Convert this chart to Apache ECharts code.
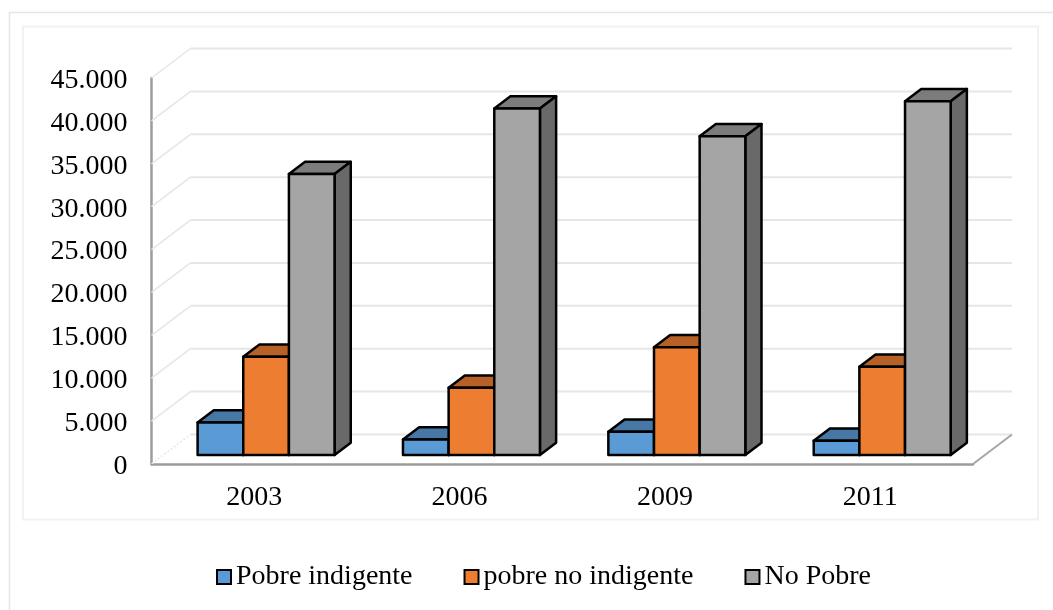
<!DOCTYPE html>
<html>
<head>
<meta charset="utf-8">
<style>html,body{margin:0;padding:0;background:#fff}#c{width:1053px;height:610px}</style>
<script src="https://cdn.jsdelivr.net/npm/echarts@6/dist/echarts.min.js"></script>
</head>
<body>
<div id="c"></div>
<script>
const categories = ['2003', '2006', '2009', '2011'];
const pobreIndigente = [3800, 1800, 2700, 1650];
const pobreNoIndigente = [11450, 7850, 12550, 10300];
const noPobre = [32750, 40400, 37150, 41250];
const yTicks = [0, 5000, 10000, 15000, 20000, 25000, 30000, 35000, 40000, 45000];
const yTickLabels = ['0', '5.000', '10.000', '15.000', '20.000', '25.000', '30.000', '35.000', '40.000', '45.000'];

const FONT = '"Liberation Serif","Times New Roman",serif';
const WALL_DX = 39, WALL_DY = -29.5;      // projected depth of the chart box
const NEAR = 0.305, FAR = 0.72;           // bar depth as a share of the box depth
const BAR_SHARE = 0.2223;                 // bar width as a share of the category band

function barSeries(name, values, slot, front, top, side) {
  return {
    name, type: 'custom', coordinateSystem: 'cartesian2d', z: 5 + slot,
    itemStyle: { color: front, borderColor: '#000', borderWidth: 2.5 },
    encode: { x: 0, y: 1 },
    data: values.map((v, i) => [i, v]),
    renderItem(params, api) {
      const band = api.size([1, 0])[0];
      const w = band * BAR_SHARE;
      const p = api.coord([api.value(0), api.value(1)]);
      const base = api.coord([api.value(0), 0]);
      const xl = p[0] + (slot - 1.5) * w + WALL_DX * NEAR, xr = xl + w;
      const yt = p[1] + WALL_DY * NEAR, yb = base[1] + WALL_DY * NEAR;
      const dx = WALL_DX * (FAR - NEAR), dy = WALL_DY * (FAR - NEAR);
      const stroke = { stroke: '#000', lineWidth: 2.5, lineJoin: 'round' };
      return {
        type: 'group',
        children: [
          { type: 'polygon', shape: { points: [[xl, yt], [xr, yt], [xr + dx, yt + dy], [xl + dx, yt + dy]] },
            style: { fill: top, ...stroke } },
          { type: 'polygon', shape: { points: [[xr, yt], [xr + dx, yt + dy], [xr + dx, yb + dy], [xr, yb]] },
            style: { fill: side, ...stroke } },
          { type: 'polygon', shape: { points: [[xl, yt], [xr, yt], [xr, yb], [xl, yb]] },
            style: { fill: front, ...stroke } }
        ]
      };
    }
  };
}

const wallSeries = {
  name: 'walls', type: 'custom', coordinateSystem: 'cartesian2d', z: 1, silent: true,
  encode: { x: 0, y: 1 },
  data: yTicks.map(v => [0, v]),
  renderItem(params, api) {
    const cs = params.coordSys;
    const val = api.value(1);
    const y = api.coord([0, val])[1];
    const x0 = cs.x, x1 = cs.x + cs.width;
    const children = [
      { type: 'polyline', shape: { points: [[x0 + WALL_DX, y + WALL_DY], [x1 + WALL_DX, y + WALL_DY]] },
        style: { stroke: '#e6e6e6', lineWidth: 2, fill: null } },
      { type: 'polyline', shape: { points: [[x0, y], [x0 + WALL_DX, y + WALL_DY]] },
        style: { stroke: '#e6e6e6', lineWidth: 1.5, fill: null, lineDash: val === 0 ? [2, 2] : null } }
    ];
    if (val === 0) {
      children.push({ type: 'polyline', shape: { points: [[x1, y], [x1 + WALL_DX, y + WALL_DY]] },
        style: { stroke: '#a6a6a6', lineWidth: 2, fill: null } });
    }
    return { type: 'group', children };
  }
};

const chart = echarts.init(document.getElementById('c'), null, { renderer: 'canvas' });
chart.setOption({
  animation: false,
  backgroundColor: '#fff',
  graphic: [
    { type: 'polyline', z: 0, silent: true, shape: { points: [[9.5, 610], [9.5, 12.5], [1053, 12.5]] },
      style: { stroke: '#e6e6e6', lineWidth: 1.5, fill: null } },
    { type: 'rect', z: 0, silent: true, shape: { x: 23, y: 26.5, width: 1015, height: 493 },
      style: { stroke: '#f2f2f2', lineWidth: 2, fill: null } }
  ],
  grid: { left: 151.5, top: 78, width: 821.5, height: 386, containLabel: false },
  xAxis: {
    type: 'category', data: categories, boundaryGap: true,
    axisTick: { show: false },
    axisLine: { show: true, onZero: false, lineStyle: { color: '#9c9c9c', width: 2.5 } },
    axisLabel: { color: '#000', fontFamily: FONT, fontSize: 28, margin: 20 },
    splitLine: { show: false }
  },
  yAxis: {
    type: 'value', min: 0, max: 45000, interval: 5000,
    axisTick: { show: false },
    axisLine: { show: true, lineStyle: { color: '#9c9c9c', width: 2.5 } },
    axisLabel: { color: '#000', fontFamily: FONT, fontSize: 28, margin: 24, verticalAlign: 'top', lineHeight: 5,
      formatter: v => yTickLabels[yTicks.indexOf(v)] },
    splitLine: { show: false }
  },
  legend: {
    data: ['Pobre indigente', 'pobre no indigente', 'No Pobre'],
    left: 216, top: 563, padding: 0, itemWidth: 14, itemHeight: 14, itemGap: 51, icon: 'rect',
    textStyle: { color: '#000', fontFamily: FONT, fontSize: 28 },
    selectedMode: false
  },
  series: [
    wallSeries,
    barSeries('Pobre indigente', pobreIndigente, 0, '#5B9BD5', '#4677A5', '#4677A5'),
    barSeries('pobre no indigente', pobreNoIndigente, 1, '#ED7D31', '#B86126', '#B86126'),
    barSeries('No Pobre', noPobre, 2, '#A5A5A5', '#7C7C7C', '#696969')
  ]
});
</script>
</body>
</html>
